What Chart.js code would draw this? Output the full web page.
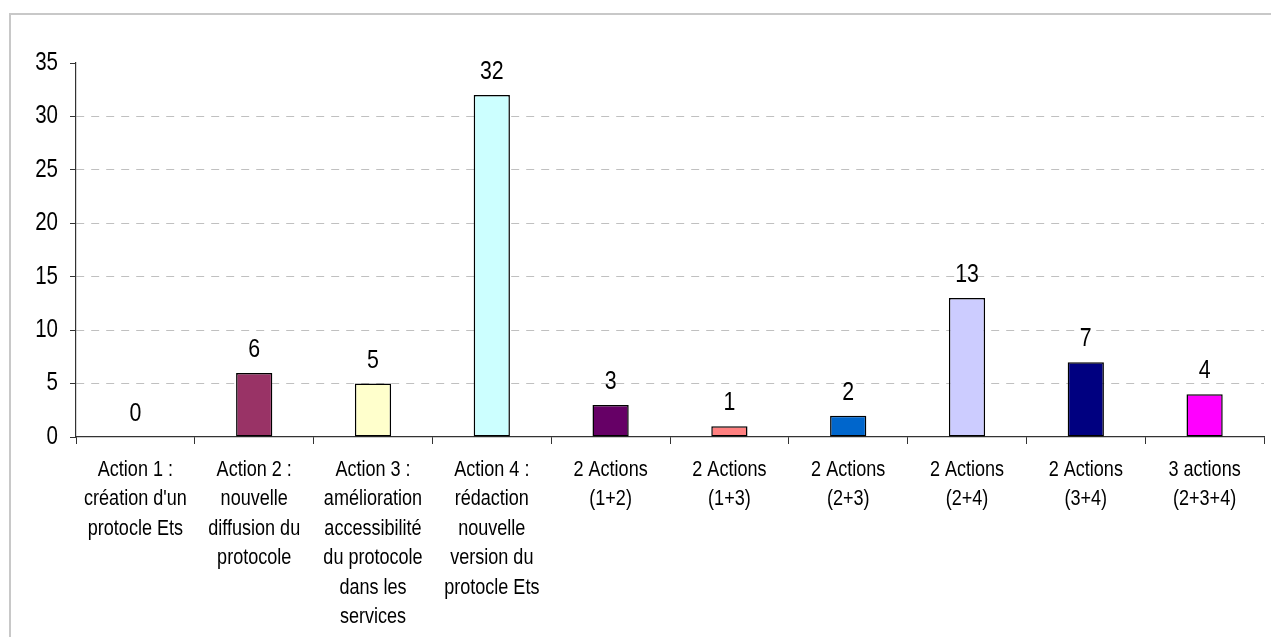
<!DOCTYPE html>
<html>
<head>
<meta charset="utf-8">
<script src="https://cdn.jsdelivr.net/npm/chart.js@4/dist/chart.umd.min.js"></script>
<style>
  html, body { margin: 0; padding: 0; background: #fff; }
  #wrap { position: relative; width: 1271px; height: 637px; overflow: hidden; }
  #frame { position: absolute; left: 9px; top: 13px; width: 1400px; height: 800px;
           border-left: 2px solid #c8c8c8; border-top: 2px solid #c8c8c8; }
  #c { position: absolute; left: 0; top: 0; }
</style>
</head>
<body>
<div id="wrap">
  <div id="frame"></div>
  <canvas id="c" width="1271" height="637"></canvas>
</div>
<script>
const categories = [
  ["Action 1 :", "création d'un", "protocle Ets"],
  ["Action 2 :", "nouvelle", "diffusion du", "protocole"],
  ["Action 3 :", "amélioration", "accessibilité", "du protocole", "dans les", "services"],
  ["Action 4 :", "rédaction", "nouvelle", "version du", "protocle Ets"],
  ["2 Actions", "(1+2)"],
  ["2 Actions", "(1+3)"],
  ["2 Actions", "(2+3)"],
  ["2 Actions", "(2+4)"],
  ["2 Actions", "(3+4)"],
  ["3 actions", "(2+3+4)"]
];
const counts = [0, 6, 5, 32, 3, 1, 2, 13, 7, 4];
const barColors = ["#ffffff", "#993366", "#ffffcc", "#ccffff", "#660066",
                   "#ff8080", "#0066cc", "#ccccff", "#000080", "#ff00ff"];
const yMax = 35;
const yStep = 5;

const FONT = "'Liberation Sans', Arial, sans-serif";
const NARROW = 0.82; // horizontal squeeze giving a narrow sans look

const canvas = document.getElementById('c');
const ctx2d = canvas.getContext('2d');
// Condense every piece of text drawn on this canvas around its anchor point
const plainFillText = ctx2d.fillText.bind(ctx2d);
ctx2d.fillText = function (text, x, y, maxWidth) {
  this.save();
  this.translate(x, y);
  this.scale(NARROW, 1);
  if (maxWidth === undefined) plainFillText(text, 0, 0);
  else plainFillText(text, 0, 0, maxWidth / NARROW);
  this.restore();
};

// Writes each bar's value above it
const valueLabels = {
  id: 'valueLabels',
  afterDatasetsDraw(chart) {
    const ctx = chart.ctx;
    const meta = chart.getDatasetMeta(0);
    ctx.save();
    ctx.font = "26px " + FONT;
    ctx.fillStyle = "#000";
    ctx.textAlign = "center";
    ctx.textBaseline = "alphabetic";
    meta.data.forEach((bar, i) => {
      ctx.fillText(String(counts[i]), bar.x, bar.y - 16);
    });
    ctx.restore();
  }
};

new Chart(canvas, {
  type: 'bar',
  data: {
    labels: categories,
    datasets: [{
      data: counts,
      backgroundColor: barColors,
      borderColor: "#000",
      borderWidth: (c) => (counts[c.dataIndex] === 0 ? 0 : 1.5),
      borderSkipped: false,
      categoryPercentage: 1,
      barPercentage: 0.305
    }]
  },
  options: {
    responsive: false,
    animation: false,
    devicePixelRatio: 1,
    layout: { padding: { top: 63, right: 7, left: 0, bottom: 0 } },
    plugins: { legend: { display: false }, tooltip: { enabled: false } },
    scales: {
      x: {
        offset: true,
        afterFit: (s) => { s.height = 200; },
        grid: {
          offset: true,
          drawOnChartArea: false,
          drawTicks: true,
          tickLength: 7,
          tickColor: "#333333",
          tickWidth: 1
        },
        border: { color: "#333333", width: 1.2 },
        ticks: {
          color: "#000",
          maxRotation: 0,
          autoSkip: false,
          padding: 11,
          font: { family: FONT, size: 22, lineHeight: 1.34 }
        }
      },
      y: {
        min: 0,
        max: yMax,
        afterFit: (s) => { s.width = 76; },
        grid: {
          color: (c) => (c.tick && (c.tick.value === 0 || c.tick.value === yMax) ? "rgba(0,0,0,0)" : "#c0c0c0"),
          lineWidth: 1,
          drawTicks: true,
          tickLength: 6,
          tickColor: "#333333",
          tickBorderDash: [],
          tickWidth: 1
        },
        border: { color: "#333333", width: 1.2, dash: [8, 7] },
        ticks: {
          stepSize: yStep,
          color: "#000",
          padding: 12,
          font: { family: FONT, size: 25 }
        }
      }
    }
  },
  plugins: [valueLabels]
});
</script>
</body>
</html>
